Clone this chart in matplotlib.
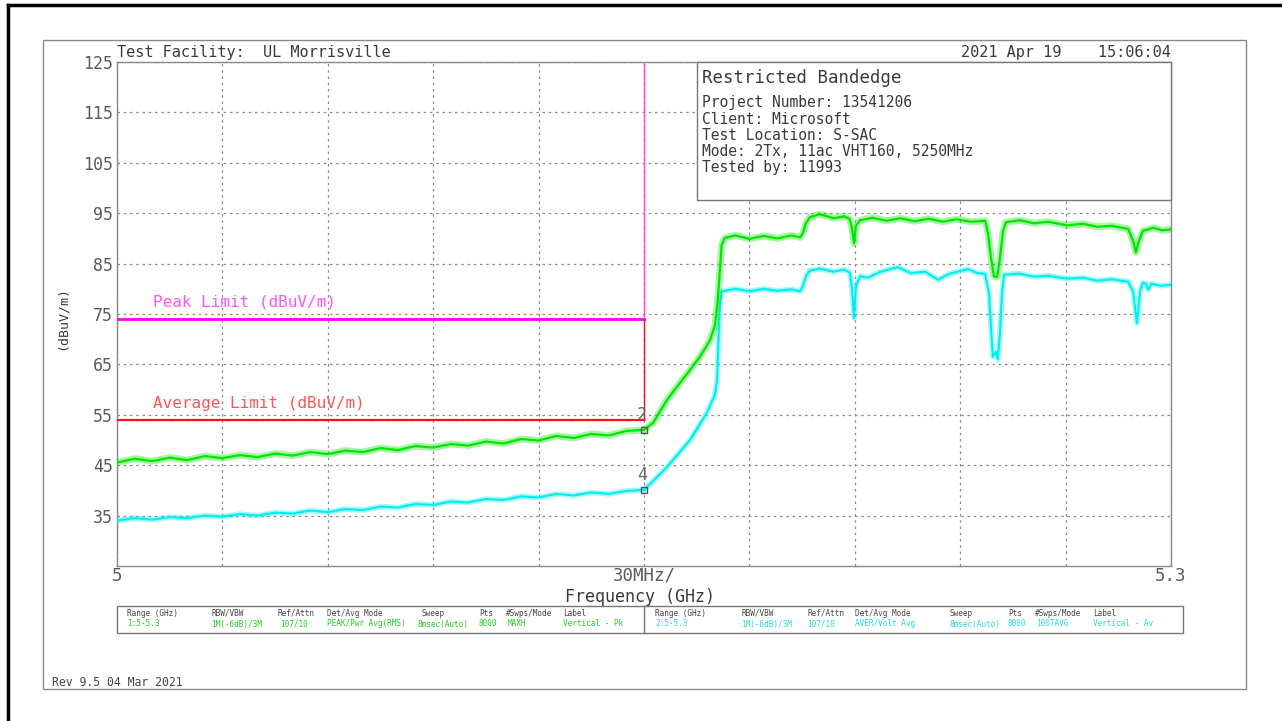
import matplotlib
matplotlib.use('Agg')
import matplotlib.pyplot as plt
from matplotlib.patches import Rectangle
from matplotlib.lines import Line2D

# ---------------- data ----------------
peak_freq = [5.000, 5.005, 5.010, 5.015, 5.020, 5.025, 5.030, 5.035, 5.040, 5.045,
             5.050, 5.055, 5.060, 5.065, 5.070, 5.075, 5.080, 5.085, 5.090, 5.095,
             5.100, 5.105, 5.110, 5.115, 5.120, 5.125, 5.130, 5.135, 5.140, 5.145, 5.150,
             5.1526, 5.1565, 5.1602, 5.1631, 5.1659, 5.1688, 5.1702, 5.1710, 5.1716, 5.1721, 5.1730,
             5.176, 5.180, 5.184, 5.188, 5.192, 5.1944,
             5.1952, 5.1961, 5.1972, 5.200, 5.204, 5.207, 5.2086,
             5.2092, 5.2098, 5.2103, 5.2115,
             5.215, 5.219, 5.223, 5.227, 5.231, 5.235, 5.239, 5.243, 5.2471,
             5.2479, 5.2488, 5.2496, 5.2505, 5.2513, 5.2522, 5.2530,
             5.257, 5.261, 5.265, 5.2704, 5.275, 5.279, 5.283, 5.2878,
             5.2892, 5.2900, 5.2909, 5.2920,
             5.295, 5.2975, 5.300]
peak_level = [45.5, 46.3, 45.8, 46.5, 46.0, 46.8, 46.4, 47.0, 46.6, 47.3,
              46.9, 47.6, 47.2, 47.9, 47.6, 48.4, 48.0, 48.8, 48.5, 49.2,
              48.9, 49.7, 49.3, 50.2, 49.9, 50.8, 50.4, 51.2, 50.9, 51.8, 52.0,
              53.4, 57.9, 61.3, 63.9, 66.5, 69.8, 72.8, 77.8, 83.7, 88.7, 90.1,
              90.6, 89.9, 90.5, 90.0, 90.6, 90.2,
              91.0, 93.0, 94.2, 94.8, 94.0, 94.4, 93.8,
              92.0, 89.0, 92.5, 93.6,
              94.1, 93.5, 94.0, 93.4, 93.9, 93.3, 93.8, 93.3, 93.5,
              91.0, 86.0, 82.5, 82.3, 86.0, 91.5, 93.2,
              93.6, 93.0, 93.3, 92.6, 92.9, 92.3, 92.5, 91.9,
              89.5, 87.2, 89.5, 91.5,
              92.1, 91.6, 91.8]

avg_freq = [5.000, 5.005, 5.010, 5.015, 5.020, 5.025, 5.030, 5.035, 5.040, 5.045,
            5.050, 5.055, 5.060, 5.065, 5.070, 5.075, 5.080, 5.085, 5.090, 5.095,
            5.100, 5.105, 5.110, 5.115, 5.120, 5.125, 5.130, 5.135, 5.140, 5.145, 5.150,
            5.1509, 5.1565, 5.1631, 5.1679, 5.1702, 5.1708, 5.1710, 5.1713, 5.1716, 5.1721,
            5.176, 5.180, 5.184, 5.188, 5.192, 5.1944,
            5.1952, 5.1961, 5.1972, 5.200, 5.204, 5.207, 5.2086,
            5.2092, 5.2098, 5.2103, 5.2115,
            5.2137, 5.217, 5.2223, 5.226, 5.230, 5.2337, 5.237, 5.2422, 5.245, 5.2471,
            5.2482, 5.2488, 5.2493, 5.2502, 5.2507, 5.2513, 5.2519, 5.2525,
            5.257, 5.261, 5.265, 5.2704, 5.275, 5.279, 5.283, 5.2878,
            5.2892, 5.2903, 5.2912, 5.2920, 5.2929, 5.2935, 5.2944, 5.297, 5.300]
avg_level = [34.0, 34.5, 34.2, 34.7, 34.5, 35.0, 34.8, 35.3, 35.0, 35.6,
             35.4, 36.0, 35.7, 36.3, 36.1, 36.8, 36.6, 37.3, 37.1, 37.8,
             37.6, 38.3, 38.1, 38.8, 38.6, 39.3, 39.0, 39.6, 39.3, 39.9, 40.1,
             40.7, 44.6, 50.0, 55.4, 59.0, 61.9, 66.0, 72.0, 77.0, 79.5,
             80.0, 79.5, 80.0, 79.6, 79.9, 79.5,
             80.5, 82.5, 83.6, 84.0, 83.4, 83.8, 83.2,
             80.0, 74.2, 80.5, 82.5,
             82.2, 83.3, 84.3, 83.1, 83.4, 81.8, 83.0, 83.9, 83.1, 83.0,
             79.0, 72.0, 66.5, 67.5, 66.0, 71.0, 79.0, 82.8,
             83.0, 82.4, 82.6, 82.0, 82.2, 81.6, 81.9, 81.4,
             79.5, 73.2, 79.5, 81.2, 81.0, 79.8, 81.0, 80.6, 80.8]

limit_edge = 5.15
peak_limit = 74.0
avg_limit = 54.0
y_ticks = [35, 45, 55, 65, 75, 85, 95, 105, 115, 125]
x_grid = [5.00, 5.03, 5.06, 5.09, 5.12, 5.15, 5.18, 5.21, 5.24, 5.27, 5.30]
marker_freq = [5.15, 5.15]
marker_level = [52.0, 40.1]
marker_names = ['2', '4']

info_title = 'Restricted Bandedge'
info_lines = ['Project Number: 13541206', 'Client: Microsoft', 'Test Location: S-SAC',
              'Mode: 2Tx, 11ac VHT160, 5250MHz', 'Tested by: 11993']

table_headers = ['Range (GHz)', 'RBW/VBW', 'Ref/Attn', 'Det/Avg Mode', 'Sweep', 'Pts',
                 '#Swps/Mode', 'Label']
table_pk = ['1:5-5.3', '1M(-6dB)/3M', '107/10', 'PEAK/Pwr Avg(RMS)', '8msec(Auto)', '8000',
            'MAXH', 'Vertical - Pk']
table_av = ['2:5-5.3', '1M(-6dB)/3M', '107/10', 'AVER/Volt Avg', '8msec(Auto)', '8000',
            '100TAVG', 'Vertical - Av']

# ---------------- layout ----------------
W, H = 1282, 721
fig = plt.figure(figsize=(W / 100, H / 100), dpi=100)
FONT = 'DejaVu Sans Mono'
GRAY = '#5a5a5a'
DARK = '#3a3a3a'
GREEN = '#00e600'
CYAN = '#00eeee'
MAGENTA = '#ff00ff'
RED = '#ff1010'


def fx(x):
    return x / W


def fy(y):
    return 1 - y / H


def ftext(x, y, s, **kw):
    kw.setdefault('family', FONT)
    kw.setdefault('color', GRAY)
    return fig.text(fx(x), fy(y), s, **kw)


# outer frames
fig.add_artist(Line2D([fx(8), fx(1282)], [fy(5), fy(5)], color='black', lw=2.5))
fig.add_artist(Line2D([fx(8), fx(8)], [fy(5), fy(721)], color='black', lw=2.5))
fig.add_artist(Rectangle((fx(43), fy(689)), (1246 - 43) / W, (689 - 40) / H,
                         transform=fig.transFigure, fill=False, ec='#888888', lw=1))

ax = fig.add_axes([fx(117), fy(566), (1171 - 117) / W, (566 - 62) / H])
ax.set_xlim(5.0, 5.3)
ax.set_ylim(25, 125)
for s in ax.spines.values():
    s.set_color('#888888')
    s.set_linewidth(1)
ax.set_yticks(y_ticks)
ax.set_yticklabels([str(v) for v in y_ticks], family=FONT, fontsize=12, color=GRAY)
ax.set_xticks(x_grid)
ax.set_xticklabels([])
ax.tick_params(length=0, pad=3)
ax.grid(True, color='#8a8a8a', linestyle=(0, (2, 3)), linewidth=0.9)

# traces (soft band + core line to suggest the noisy sweep)
ax.plot(avg_freq, avg_level, color=CYAN, lw=4.0, alpha=0.35, zorder=3)
ax.plot(avg_freq, avg_level, color=CYAN, lw=1.5, zorder=3)
ax.plot(peak_freq, peak_level, color=GREEN, lw=5.0, alpha=0.35, zorder=3)
ax.plot(peak_freq, peak_level, color=GREEN, lw=1.6, zorder=3)

# limits
ax.plot([5.0, limit_edge], [peak_limit, peak_limit], color=MAGENTA, lw=2, zorder=4)
ax.plot([limit_edge, limit_edge], [peak_limit, 125], color='#ff44ff', lw=1, zorder=4)
ax.plot([5.0, limit_edge], [avg_limit, avg_limit], color=RED, lw=1.6, zorder=4)
ax.plot([limit_edge, limit_edge], [avg_limit, peak_limit], color=RED, lw=1, zorder=4)
ax.text(5.0102, 76.5, 'Peak Limit (dBuV/m)', family=FONT, fontsize=11.5, color='#ff55ff')
ax.text(5.0102, 56.3, 'Average Limit (dBuV/m)', family=FONT, fontsize=11.5, color='#ff5555')

# markers
for mf, ml, mn in zip(marker_freq, marker_level, marker_names):
    ax.plot([mf], [ml], marker='s', ms=5, mfc='none', mec='#555555', mew=1, zorder=6)
    ax.text(mf - 0.0005, ml + 1.2, mn, family=FONT, fontsize=12, color='#666666',
            ha='center', va='bottom', zorder=6)

# info box
fig.add_artist(Rectangle((fx(697), fy(200)), (1171 - 697) / W, (200 - 62) / H,
                         transform=fig.transFigure, fc='white', ec='#777777', lw=1, zorder=5))
ftext(702, 78, info_title, fontsize=12.5, va='center', color=DARK, zorder=6)
for i, line in enumerate(info_lines):
    ftext(702, 103 + i * 16.2, line, fontsize=10.5, va='center', color=DARK, zorder=6)

# header texts
ftext(117, 52, 'Test Facility:  UL Morrisville', fontsize=11, va='center', color=DARK)
ftext(1171, 52, '2021 Apr 19    15:06:04', fontsize=11, va='center', ha='right', color=DARK)
ftext(62, 318, '(dBuV/m)', fontsize=9.5, rotation=90, va='center', ha='center', color=DARK)

# x labels
ftext(117, 576, '5', fontsize=12.5, ha='center', va='center')
ftext(644, 576, '30MHz/', fontsize=12.5, ha='center', va='center')
ftext(1171, 576, '5.3', fontsize=12.5, ha='center', va='center')
ftext(640, 597, 'Frequency (GHz)', fontsize=12, ha='center', va='center', color=DARK)

# settings table
fig.add_artist(Rectangle((fx(117), fy(633)), (1183 - 117) / W, (633 - 606) / H,
                         transform=fig.transFigure, fill=False, ec='#777777', lw=1))
fig.add_artist(Line2D([fx(644), fx(644)], [fy(606), fy(633)], color='#777777', lw=1))
left_cols = [127, 211, 278, 327, 422, 479, 506, 563]
left_vals = [127, 211, 280, 327, 417, 479, 508, 563]
right_cols = [655, 741, 807, 855, 950, 1008, 1035, 1093]
right_vals = [655, 741, 807, 855, 950, 1008, 1036, 1093]
for hx, vx, h, v in zip(left_cols, left_vals, table_headers, table_pk):
    ftext(hx, 613, h, fontsize=5.6, va='center', color='#444444')
    ftext(vx, 624, v, fontsize=5.6, va='center', color='#22cc22')
for hx, vx, h, v in zip(right_cols, right_vals, table_headers, table_av):
    ftext(hx, 613, h, fontsize=5.6, va='center', color='#444444')
    ftext(vx, 624, v, fontsize=5.6, va='center', color='#22dddd')

ftext(52, 682, 'Rev 9.5 04 Mar 2021', fontsize=8.3, va='center', color='#444444')

fig.savefig('out.png', dpi=100, facecolor='white')
